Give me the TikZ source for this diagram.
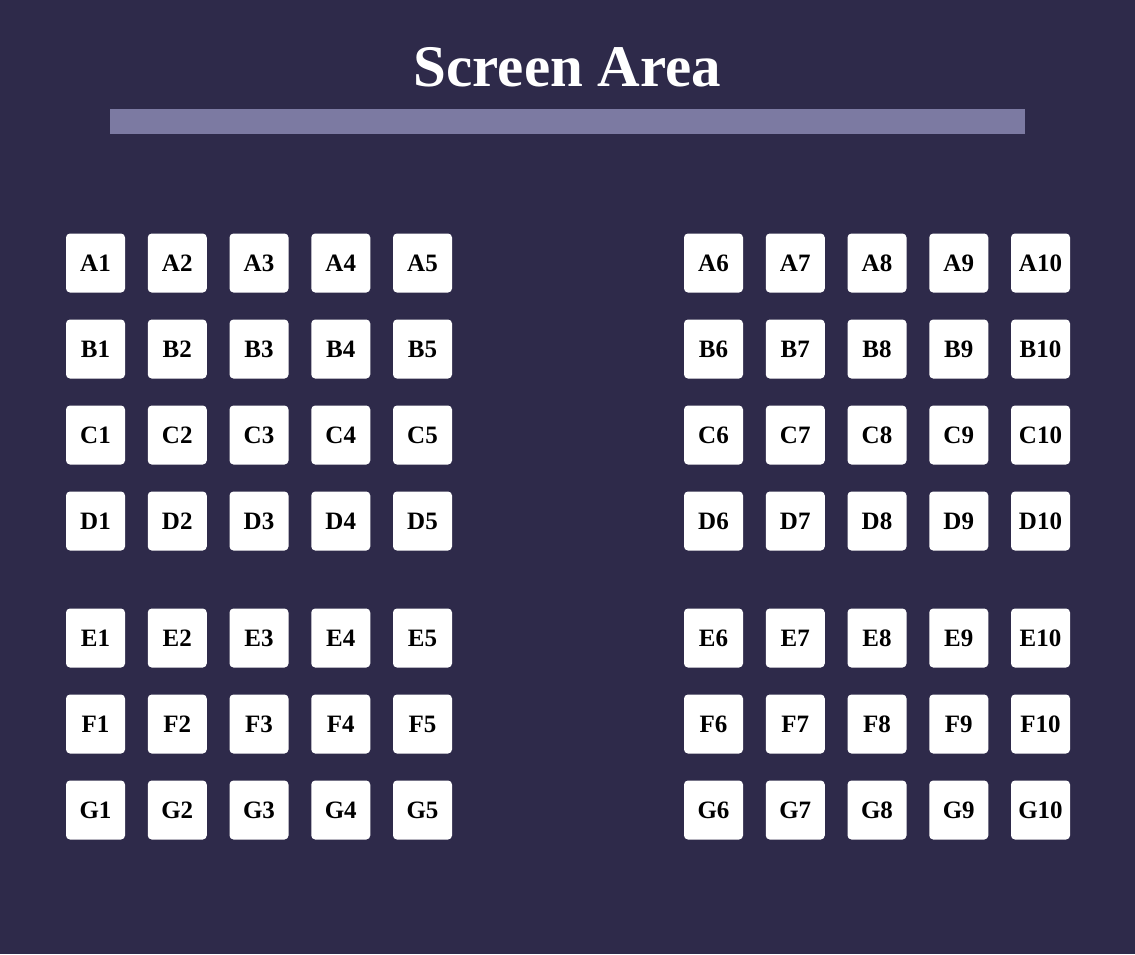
\documentclass[tikz,border=0pt]{standalone}
\usepackage{fontspec}
\setmainfont{Liberation Serif}
\usetikzlibrary{positioning}

\definecolor{hallbg}{HTML}{2E2A4A}
\definecolor{screenbar}{HTML}{7C7AA2}

\begin{document}
\begin{tikzpicture}[
      x=1pt,y=-1pt,
      seat/.style={fill=white,rounded corners=4pt,minimum width=59pt,minimum height=59pt,
        inner sep=0pt,font=\fontsize{25}{25}\selectfont\bfseries,text=black},
      title/.style={text=white,font=\fontsize{59}{59}\selectfont\bfseries}
    ]
      \fill[hallbg] (0,0) rectangle (1135,954);
      \useasboundingbox (0,0) rectangle (1135,954);
      \node[title] (screen title) at (567.5,67) {Screen Area};
      \fill[screenbar] (110,108.5) rectangle (1025,133.5);
      % seats, left block 1-5 and right block 6-10
      \foreach \row/\y in {A/263,B/349,C/435,D/521,E/638,F/724,G/810}{
        \foreach \n in {1,...,5}{
          \node[seat] (seat-\row\n) at ({95.5+81.75*(\n-1)},\y) {\row\n};
        }
        \foreach \n in {6,...,10}{
          \node[seat] (seat-\row\n) at ({713.5+81.75*(\n-6)},\y) {\row\n};
        }
      }
    \end{tikzpicture}
\end{document}
